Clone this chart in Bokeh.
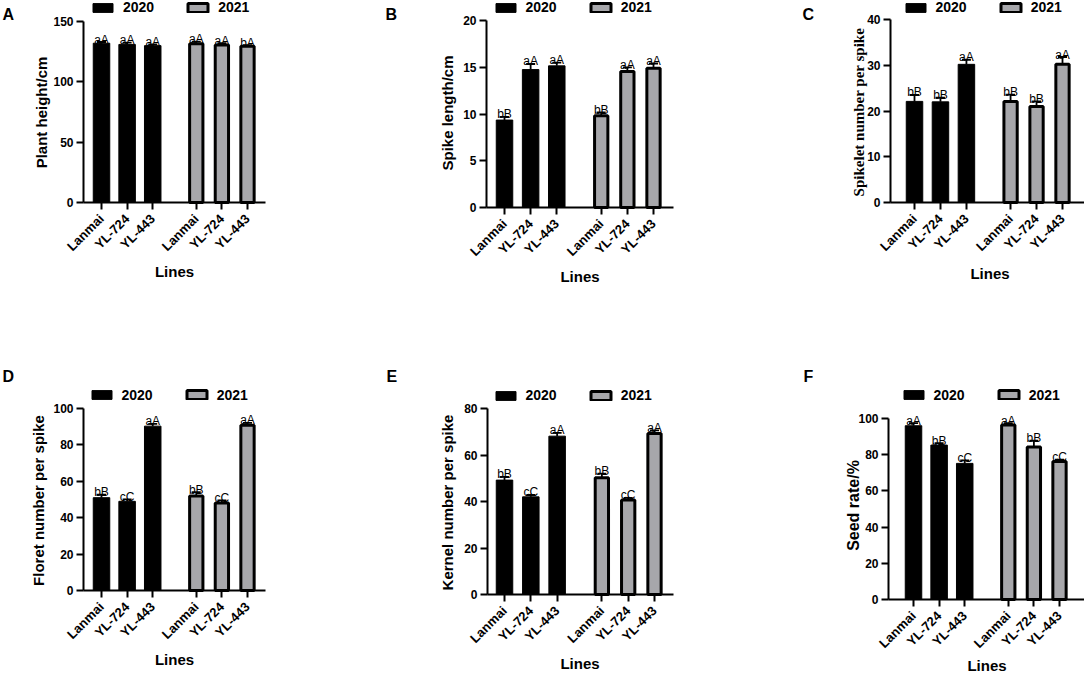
import math
from bokeh.plotting import figure
from bokeh.models import (ColumnDataSource, Range1d, FixedTicker, Legend, LegendItem, Label)
from bokeh.layouts import row, column
from bokeh.embed import file_html
from bokeh.resources import INLINE
from bokeh.core.properties import value

# ---------------- data ----------------
lines = ["Lanmai", "YL-724", "YL-443"]
years = ["2020", "2021"]

plant_2020 = [132.0, 131.0, 130.0]
plant_2020_err = [1.0, 1.5, 1.0]
plant_2021 = [131.5, 130.5, 129.5]
plant_2021_err = [1.8, 1.6, 1.0]
plant_2020_sig = ["aA", "aA", "aA"]
plant_2021_sig = ["aA", "aA", "bA"]

spike_2020 = [9.35, 14.75, 15.15]
spike_2020_err = [0.35, 0.6, 0.35]
spike_2021 = [9.8, 14.55, 14.9]
spike_2021_err = [0.36, 0.43, 0.5]
spike_2020_sig = ["bB", "aA", "aA"]
spike_2021_sig = ["bB", "aA", "aA"]

spikelet_2020 = [22.1, 22.0, 30.2]
spikelet_2020_err = [1.4, 0.9, 1.0]
spikelet_2021 = [22.1, 21.0, 30.2]
spikelet_2021_err = [1.5, 1.1, 1.6]
spikelet_2020_sig = ["bB", "bB", "aA"]
spikelet_2021_sig = ["bB", "bB", "aA"]

floret_2020 = [51.0, 49.0, 90.3]
floret_2020_err = [1.6, 1.1, 1.2]
floret_2021 = [51.9, 48.1, 90.8]
floret_2021_err = [2.2, 1.4, 1.3]
floret_2020_sig = ["bB", "cC", "aA"]
floret_2021_sig = ["bB", "cC", "aA"]

kernel_2020 = [49.2, 42.0, 68.1]
kernel_2020_err = [1.4, 0.8, 1.4]
kernel_2021 = [50.2, 40.6, 69.2]
kernel_2021_err = [1.8, 1.0, 1.4]
kernel_2020_sig = ["bB", "cC", "aA"]
kernel_2021_sig = ["bB", "cC", "aA"]

seed_2020 = [96.0, 85.3, 75.2]
seed_2020_err = [1.5, 1.1, 1.7]
seed_2021 = [96.4, 84.2, 76.2]
seed_2021_err = [1.1, 3.5, 1.1]
seed_2020_sig = ["aA", "bB", "cC"]
seed_2021_sig = ["aA", "bB", "cC"]

# ---------------- layout / style ----------------
SANS = "Liberation Sans"
SERIF = "Liberation Serif"
GRAY = "#a7a7ab"
FIG_X = [0, 361, 722]
FIG_W = [361, 361, 362]
FIG_Y = [0, 338]
FIG_H = 338

GROUP_GAP = 17
x2020 = [i * 10 for i in range(len(lines))]
x2021 = [x2020[-1] + GROUP_GAP + i * 10 for i in range(len(lines))]
xticks = x2020 + x2021

# positions below are pixel centres of texts in the 1084x676 picture
panels = [
    dict(letter="A", ylabel="Plant height/cm", data=(plant_2020, plant_2020_err, plant_2020_sig,
                                                     plant_2021, plant_2021_err, plant_2021_sig),
         ymax=150, step=50, cell=(0, 0),
         axes=(83, 265, 21, 202), bars=(101, 247),
         leg=(92.5, 9.5), let=(2, 13.7), ylab=(40.6, 112), xlab=(174, 270.5), ylab_font=SANS,
         ylab_size="15px"),
    dict(letter="B", ylabel="Spike length/cm", data=(spike_2020, spike_2020_err, spike_2020_sig,
                                                     spike_2021, spike_2021_err, spike_2021_sig),
         ymax=20, step=5, cell=(1, 0),
         axes=(486, 673, 20, 207), bars=(504, 653),
         leg=(495, 9.5), let=(385, 13.7), ylab=(447, 112.5), xlab=(579.5, 276), ylab_font=SANS,
         ylab_size="15px"),
    dict(letter="C", ylabel="Spikelet number per spike",
         data=(spikelet_2020, spikelet_2020_err, spikelet_2020_sig,
               spikelet_2021, spikelet_2021_err, spikelet_2021_sig),
         ymax=40, step=10, cell=(2, 0),
         axes=(890, 1084, 19, 202), bars=(914, 1062),
         leg=(905, 9.5), let=(802, 14), ylab=(858.5, 111.5), xlab=(989.5, 272.5), ylab_font=SERIF,
         ylab_size="15px"),
    dict(letter="D", ylabel="Floret number per spike",
         data=(floret_2020, floret_2020_err, floret_2020_sig,
               floret_2021, floret_2021_err, floret_2021_sig),
         ymax=100, step=20, cell=(0, 1),
         axes=(83, 265, 408, 590), bars=(101, 247),
         leg=(91, 397), let=(2, 375.5), ylab=(37.6, 500), xlab=(174, 659), ylab_font=SANS,
         ylab_size="15px"),
    dict(letter="E", ylabel="Kernel number per spike",
         data=(kernel_2020, kernel_2020_err, kernel_2020_sig,
               kernel_2021, kernel_2021_err, kernel_2021_sig),
         ymax=80, step=20, cell=(1, 1),
         axes=(487, 673, 408, 594), bars=(504, 654),
         leg=(495, 397.5), let=(386, 375.5), ylab=(446.6, 502), xlab=(579.5, 663), ylab_font=SANS,
         ylab_size="15px"),
    dict(letter="F", ylabel="Seed rate/%", data=(seed_2020, seed_2020_err, seed_2020_sig,
                                                 seed_2021, seed_2021_err, seed_2021_sig),
         ymax=100, step=20, cell=(2, 1),
         axes=(888, 1084, 418, 599), bars=(913, 1059),
         leg=(903, 397), let=(803, 375.5), ylab=(853.3, 505), xlab=(986.5, 665), ylab_font=SANS,
         ylab_size="16px"),
]


def make_panel(c):
    ci, ri = c["cell"]
    fx, fw = FIG_X[ci], FIG_W[ci]
    fy, fh = FIG_Y[ri], FIG_H
    al, ar, at, ab = c["axes"]
    b0, b1 = c["bars"]
    u = (b1 - b0) / (xticks[-1] - xticks[0])      # px per x unit
    k = (ab - at) / c["ymax"]                      # px per y unit

    def xd(px):
        return xticks[0] + (px - b0) / u

    def yd(py):
        return (ab - py) / k

    p = figure(width=fw, height=fh, x_range=Range1d(xd(fx), xd(fx + fw)),
               y_range=Range1d(yd(fy + fh), yd(fy)),
               output_backend="svg", toolbar_location=None, tools="", min_border=0)
    p.title.visible = False
    p.outline_line_color = None
    p.xgrid.visible = False
    p.ygrid.visible = False
    p.background_fill_color = "white"
    p.border_fill_color = "white"

    d20, e20, s20, d21, e21, s21 = c["data"]
    renderers = []
    for xs_, d, e, s, fill, wpx, lw in [
        (x2020, d20, e20, s20, "black", 16.5, 1),
        (x2021, d21, e21, s21, GRAY, 13.3, 3),
    ]:
        src = ColumnDataSource(dict(x=xs_, y=d, upper=[a + b for a, b in zip(d, e)], sig=s))
        r = p.vbar(x="x", top="y", width=wpx / u, source=src, fill_color=fill,
                   line_color="black", line_width=lw)
        renderers.append(r)
        p.segment(x0="x", y0="y", x1="x", y1="upper", source=src, line_color="black",
                  line_width=1.8)
        p.scatter(x="x", y="upper", source=src, marker="dash", size=9, line_color="black",
                  line_width=1.8)
        p.text(x="x", y="upper", text="sig", source=src, text_align="center",
               text_baseline="alphabetic", y_offset=-2.5, text_font=value(SANS),
               text_font_size="12px", text_color="black")

    # legend (inside the frame, which spans the whole figure)
    gw, gh = 25, 11
    lbx, lcy = c["leg"]
    vx = (lbx - 0.1 * gw) - fx
    vy = (fy + fh) - (lcy + gh / 2)
    legend = Legend(items=[LegendItem(label=years[0], renderers=[renderers[0]]),
                           LegendItem(label=years[1], renderers=[renderers[1]])],
                    location=(vx, vy), orientation="horizontal", spacing=31,
                    glyph_width=gw, glyph_height=gh, label_height=gh, label_standoff=8,
                    padding=0, margin=0, border_line_color=None, background_fill_alpha=0,
                    label_text_font=SANS, label_text_font_style="bold",
                    label_text_font_size="14px", label_text_color="black")
    p.add_layout(legend)

    # panel letter
    lx, ly = c["let"]
    p.add_layout(Label(x=xd(lx), y=yd(ly), text=c["letter"], text_font=SANS,
                       text_font_style="bold", text_font_size="16px",
                       text_baseline="middle", text_align="left", text_color="black"))
    # y-axis title
    yx, yy = c["ylab"]
    p.add_layout(Label(x=xd(yx), y=yd(yy), text=c["ylabel"], angle=90, angle_units="deg",
                       text_font=c["ylab_font"], text_font_style="bold",
                       text_font_size=c["ylab_size"], text_align="center",
                       text_baseline="middle", text_color="black"))
    # x-axis title
    xx, xy = c["xlab"]
    p.add_layout(Label(x=xd(xx), y=yd(xy), text="Lines", text_font=SANS,
                       text_font_style="bold", text_font_size="15px", text_align="center",
                       text_baseline="middle", text_color="black"))

    # axes at fixed positions
    for ax in (p.xaxis[0], p.yaxis[0]):
        ax.axis_line_width = 2
        ax.axis_line_color = "black"
        ax.major_tick_line_width = 2
        ax.major_tick_line_color = "black"
        ax.major_tick_out = 7
        ax.major_tick_in = 0
        ax.minor_tick_out = 0
        ax.minor_tick_in = 0
        ax.major_label_text_font = SANS
        ax.major_label_text_font_style = "bold"
        ax.major_label_text_font_size = "12px"
        ax.major_label_text_color = "black"

    p.xaxis.fixed_location = 0
    p.xaxis.bounds = (xd(al), xd(ar))
    p.xaxis.ticker = FixedTicker(ticks=xticks)
    p.xaxis.major_label_overrides = {t: lab for t, lab in zip(xticks, lines + lines)}
    p.xaxis.major_label_orientation = math.pi / 4
    p.xaxis.major_label_standoff = 7
    p.xaxis.major_label_text_font_size = "13px"

    p.yaxis.fixed_location = xd(al)
    p.yaxis.bounds = (0, c["ymax"])
    p.yaxis.ticker = FixedTicker(ticks=list(range(0, c["ymax"] + 1, c["step"])))
    p.yaxis.major_label_standoff = 3
    return p


figs = [make_panel(c) for c in panels]
layout = column(row(*figs[:3]), row(*figs[3:]))
open("out.html", "w").write(file_html(layout, INLINE))
